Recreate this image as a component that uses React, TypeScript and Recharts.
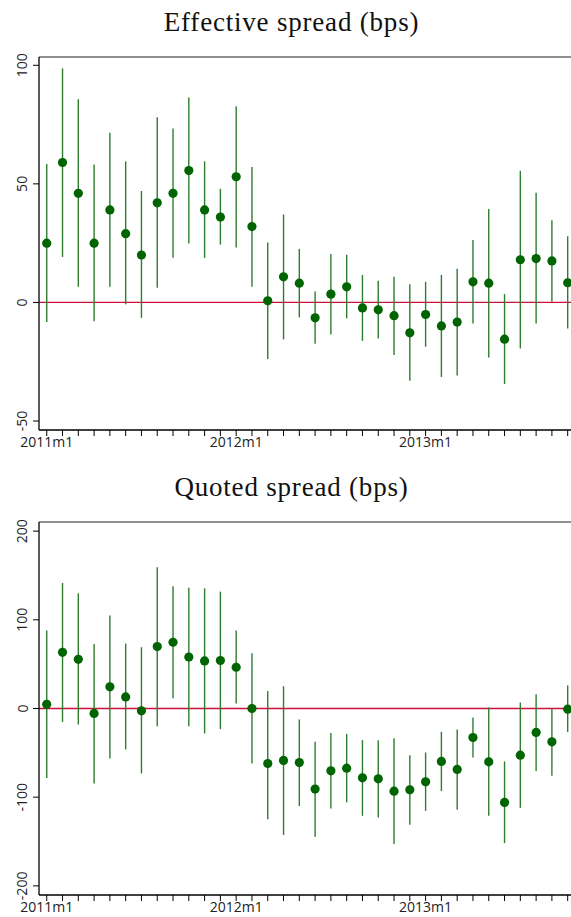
import React from "react";
import {
  ComposedChart,
  Scatter,
  ErrorBar,
  XAxis,
  YAxis,
  ReferenceLine,
} from "recharts";

// months 2011m1 .. 2013m10
const months = Array.from({ length: 34 }, (_, i) => `${2011 + Math.floor(i / 12)}m${(i % 12) + 1}`);
const labelledMonths = ["2011m1", "2012m1", "2013m1"];

const effPoint = [25, 59, 46, 25, 39, 29, 20, 42, 46, 55.6, 39, 36, 53, 32, 0.7, 10.8, 8.1, -6.5, 3.5, 6.6, -2.3, -3.1, -5.6, -12.8, -5.1, -9.9, -8.3, 8.7, 8.1, -15.5, 18, 18.5, 17.5, 8.3];
const effHigh = [58.4, 98.7, 85.7, 58.2, 71.6, 59.5, 47, 78.1, 73.4, 86.4, 59.5, 47.9, 82.7, 57.1, 25.3, 37.1, 22.6, 4.6, 20.4, 20.1, 11.6, 9.1, 10.8, 7.7, 8.7, 11.6, 14.2, 26.3, 39.4, 3.5, 55.5, 46.2, 34.7, 27.9];
const effLow = [-8.3, 19.2, 6.6, -7.9, 6.6, -0.8, -6.5, 6.2, 18.8, 24.9, 18.8, 24.4, 23.2, 6.6, -23.9, -15.6, -6.3, -17.4, -13.5, -6.7, -16.2, -15.2, -22.2, -33, -18.7, -31.4, -30.8, -8.9, -23.2, -34.4, -19.4, -8.9, 0.3, -11];

const quoPoint = [4.8, 63.4, 55.5, -5.6, 24.4, 13.1, -2.6, 69.8, 74.7, 58.1, 53.6, 54.1, 46.5, 0, -62, -58.5, -61, -90.9, -70.3, -67.3, -78.2, -79.3, -93.2, -91.7, -82.7, -59.7, -68.7, -32.7, -60.1, -105.9, -52.6, -27, -37.6, -0.8];
const quoHigh = [87.9, 141.5, 129.9, 72.8, 104.8, 73.2, 69.1, 159.2, 137.8, 136.3, 135.5, 131.8, 87.9, 62.3, 19.8, 25.1, -12.4, -37.6, -27.5, -28.6, -35.7, -35.7, -33.5, -52.6, -49.6, -26.3, -23.7, -10.1, 1.1, -59.7, 6.8, 16.1, 0, 26];
const quoLow = [-78.5, -15.1, -18.1, -84.5, -56.3, -46.2, -73.2, -20, 11.6, -20, -28.2, -23.3, 5.6, -62, -125, -142.6, -110, -144.7, -112.7, -105.9, -121, -122.8, -152.9, -131.2, -115.4, -93.2, -114.2, -55.2, -121, -151.8, -112, -70.6, -75.9, -26.4];

const effTicks = [-50, 0, 50, 100];
const quoTicks = [-200, -100, 0, 100, 200];

const GREEN = "#006400";
const BAR_GREEN = "#2e7d2e";
const RED = "#d0103a";
const TICK_FONT = "'Open Sans', sans-serif";

function buildRows(point: number[], high: number[], low: number[]) {
  return point.map((v, i) => ({
    idx: i,
    value: v,
    err: [v - low[i], high[i] - v],
  }));
}

const YTick = (props: any) => {
  const { x, y, payload } = props;
  const cx = x - 9;
  return (
    <text
      x={cx}
      y={y}
      transform={`rotate(-90 ${cx} ${y})`}
      textAnchor="middle"
      dominantBaseline="central"
      fontFamily={TICK_FONT}
      fontSize={14}
      fill="#222"
    >
      {payload.value}
    </text>
  );
};

const Dot = (props: any) => {
  const { cx, cy } = props;
  return <circle cx={cx} cy={cy} r={4.6} fill={GREEN} />;
};

function Panel({
  title,
  rows,
  domain,
  ticks,
  height,
  axisHeight,
}: {
  title: string;
  rows: any[];
  domain: [number, number];
  ticks: number[];
  height: number;
  axisHeight: number;
}) {
  return (
    <div style={{ position: "relative", width: 571, height }}>
      <div
        style={{
          position: "absolute",
          left: 0,
          width: 583,
          top: 7,
          textAlign: "center",
          fontFamily: "'Liberation Serif', serif",
          fontSize: 27,
          letterSpacing: 0.8,
          lineHeight: "30px",
          color: "#111",
        }}
      >
        {title}
      </div>
      <ComposedChart
        width={571}
        height={height}
        data={rows}
        margin={{ top: 57, right: 0, bottom: 0, left: 0 }}
      >
        <XAxis
          type="number"
          dataKey="idx"
          domain={[-0.49, 33.21]}
          ticks={months.map((_, i) => i)}
          interval={0}
          tickFormatter={(i: number) => (labelledMonths.includes(months[i]) ? months[i] : "")}
          tickSize={6}
          tickMargin={1}
          height={axisHeight}
          axisLine={{ stroke: "#000", strokeWidth: 1.3 }}
          tickLine={{ stroke: "#000", strokeWidth: 1 }}
          tick={{ fontFamily: TICK_FONT, fontSize: 14, fill: "#222" }}
          allowDataOverflow
        />
        <YAxis
          type="number"
          domain={domain}
          ticks={ticks}
          width={39}
          tickSize={6}
          tickMargin={2}
          axisLine={{ stroke: "#000", strokeWidth: 1.3 }}
          tickLine={{ stroke: "#000", strokeWidth: 1 }}
          tick={<YTick />}
          allowDataOverflow
        />
        <ReferenceLine y={domain[1]} stroke="#222" strokeWidth={1.2} ifOverflow="extendDomain" />
        <ReferenceLine y={0} stroke={RED} strokeWidth={1.3} />
        <Scatter dataKey="value" shape={<Dot />} isAnimationActive={false}>
          <ErrorBar dataKey="err" direction="y" width={0} stroke={BAR_GREEN} strokeWidth={1.4} />
        </Scatter>
      </ComposedChart>
    </div>
  );
}

export default function App() {
  const effRows = buildRows(effPoint, effHigh, effLow);
  const quoRows = buildRows(quoPoint, quoHigh, quoLow);
  return (
    <div
      style={{
        position: "absolute",
        left: 0,
        top: 0,
        width: 571,
        height: 917,
        overflow: "hidden",
        background: "#fff",
      }}
    >
      <Panel
        title="Effective spread (bps)"
        rows={effRows}
        domain={[-53.8, 103.5]}
        ticks={effTicks}
        height={465}
        axisHeight={35}
      />
      <Panel
        title="Quoted spread (bps)"
        rows={quoRows}
        domain={[-210.3, 210.3]}
        ticks={quoTicks}
        height={452}
        axisHeight={22}
      />
    </div>
  );
}
